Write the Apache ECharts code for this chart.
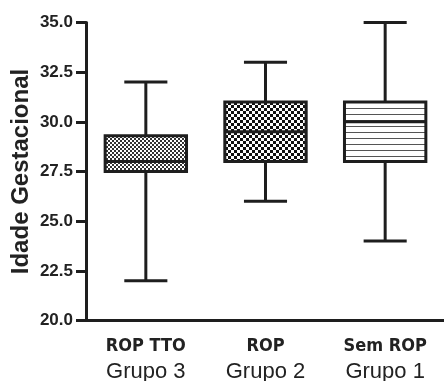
<!DOCTYPE html>
<html>
<head>
<meta charset="utf-8">
<script src="https://cdn.jsdelivr.net/npm/echarts@6/dist/echarts.min.js"></script>
<style>html,body{margin:0;padding:0;background:#fff}#c{width:444px;height:381px}</style>
</head>
<body>
<div id="c"></div>
<script>
// ---- data ----
var categories = ['ROP TTO', 'ROP', 'Sem ROP'];
var groups = ['Grupo 3', 'Grupo 2', 'Grupo 1'];
var minVals = [22.0, 26.0, 24.0];
var q1Vals = [27.5, 28.0, 28.0];
var medianVals = [28.0, 29.5, 30.0];
var q3Vals = [29.3, 31.0, 31.0];
var maxVals = [32.0, 33.0, 35.0];
var yTicks = [20.0, 22.5, 25.0, 27.5, 30.0, 32.5, 35.0];
var yTitle = 'Idade Gestacional';

var condensed = "'DejaVu Sans Condensed', 'Liberation Sans', sans-serif";

// ---- patterns ----
function checker(cell, dark, light) {
  var c = document.createElement('canvas');
  c.width = cell * 2; c.height = cell * 2;
  var g = c.getContext('2d');
  g.fillStyle = light; g.fillRect(0, 0, c.width, c.height);
  g.fillStyle = dark;
  g.fillRect(0, 0, cell, cell);
  g.fillRect(cell, cell, cell, cell);
  return c;
}
function hlines(period, dark) {
  var c = document.createElement('canvas');
  c.width = 8; c.height = period;
  var g = c.getContext('2d');
  g.fillStyle = '#fff'; g.fillRect(0, 0, c.width, c.height);
  g.fillStyle = dark; g.fillRect(0, 0, c.width, 1);
  return c;
}
var patterns = [
  { image: checker(2, '#333', '#fff'), repeat: 'repeat' },
  { image: checker(3, '#111', '#fff'), repeat: 'repeat' },
  { image: hlines(6, '#555'), repeat: 'repeat' }
];

var seriesData = categories.map(function (c, i) {
  return [i, minVals[i], q1Vals[i], medianVals[i], q3Vals[i], maxVals[i]];
});

var ink = '#1e1e1e';
var chart = echarts.init(document.getElementById('c'), null, { renderer: 'canvas' });
chart.setOption({
  animation: false,
  grid: { left: 86, right: -1, top: 22.5, bottom: 60.5, containLabel: false, outerBoundsMode: 'none' },
  xAxis: {
    type: 'category',
    data: categories,
    boundaryGap: true,
    axisLine: { lineStyle: { color: ink, width: 3 } },
    axisTick: { alignWithLabel: true, length: 7, lineStyle: { color: ink, width: 3 } },
    axisLabel: {
      margin: 13,
      interval: 0,
      formatter: function (v, i) { return '{a|' + v + '}\n{b|' + groups[i] + '}'; },
      rich: {
        a: { fontFamily: condensed, fontWeight: 'bold', fontSize: 18, lineHeight: 25, color: '#222' },
        b: { fontFamily: 'Liberation Sans', fontSize: 22, lineHeight: 27, color: '#222' }
      }
    },
    splitLine: { show: false }
  },
  yAxis: {
    type: 'value',
    min: yTicks[0],
    max: yTicks[yTicks.length - 1],
    interval: 2.5,
    name: yTitle,
    nameLocation: 'middle',
    nameRotate: 90,
    nameGap: 53,
    nameMoveOverlap: false,
    nameTextStyle: { fontFamily: 'Liberation Sans', fontWeight: 'bold', fontSize: 24, color: '#222' },
    axisLine: { show: true, lineStyle: { color: ink, width: 3 } },
    axisTick: { show: true, length: 10, lineStyle: { color: ink, width: 3 } },
    axisLabel: {
      margin: 13,
      fontFamily: 'Liberation Sans', fontWeight: 'bold', fontSize: 17, color: '#222',
      formatter: function (v) { return v.toFixed(1); }
    },
    splitLine: { show: false }
  },
  series: [{
    type: 'custom',
    data: seriesData,
    encode: { x: 0, y: [1, 2, 3, 4, 5] },
    renderItem: function (params, api) {
      var i = api.value(0);
      var cx = api.coord([i, api.value(3)])[0];
      var band = api.size([1, 0])[0];
      var bw = band * 0.68;
      var cw = band * 0.36;
      var yMin = api.coord([i, api.value(1)])[1];
      var yQ1 = api.coord([i, api.value(2)])[1];
      var yMed = api.coord([i, api.value(3)])[1];
      var yQ3 = api.coord([i, api.value(4)])[1];
      var yMax = api.coord([i, api.value(5)])[1];
      var ls = { stroke: ink, lineWidth: 3, fill: null };
      return {
        type: 'group',
        children: [
          { type: 'line', shape: { x1: cx, y1: yMax, x2: cx, y2: yQ3 }, style: ls },
          { type: 'line', shape: { x1: cx, y1: yQ1, x2: cx, y2: yMin }, style: ls },
          { type: 'line', shape: { x1: cx - cw / 2, y1: yMax, x2: cx + cw / 2, y2: yMax }, style: ls },
          { type: 'line', shape: { x1: cx - cw / 2, y1: yMin, x2: cx + cw / 2, y2: yMin }, style: ls },
          { type: 'rect', shape: { x: cx - bw / 2, y: yQ3, width: bw, height: yQ1 - yQ3 },
            style: { fill: patterns[i], stroke: ink, lineWidth: 3 } },
          { type: 'line', shape: { x1: cx - bw / 2, y1: yMed, x2: cx + bw / 2, y2: yMed }, style: ls }
        ]
      };
    }
  }]
});
</script>
</body>
</html>
